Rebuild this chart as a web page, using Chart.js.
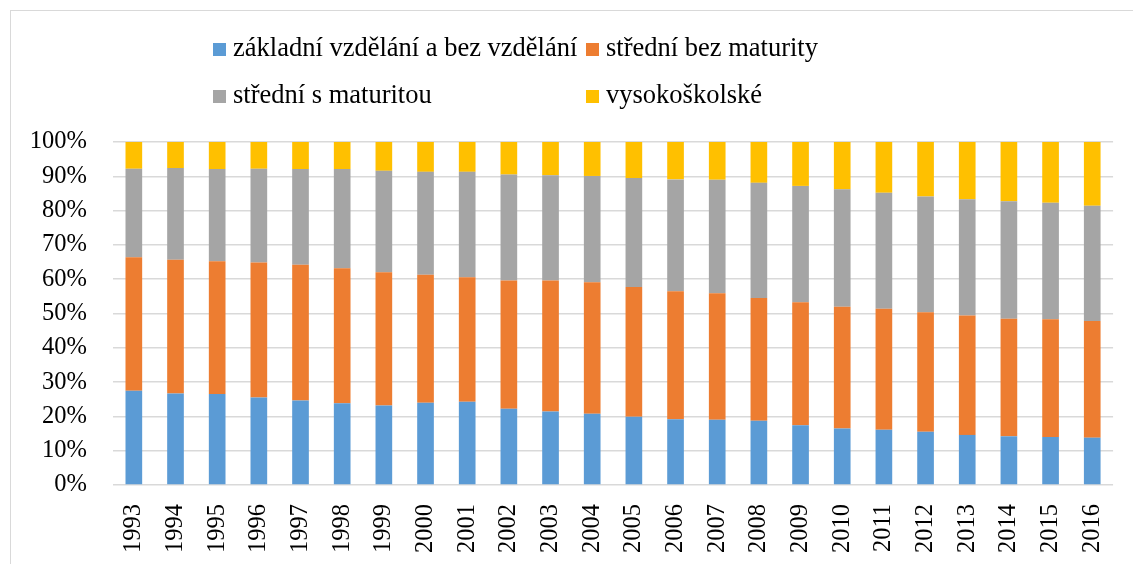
<!DOCTYPE html>
<html>
<head>
<meta charset="utf-8">
<script src="https://cdn.jsdelivr.net/npm/chart.js@4/dist/chart.umd.min.js"></script>
<style>
html, body { margin: 0; padding: 0; background: #fff; overflow: hidden; }
#wrap { position: relative; width: 1133px; height: 564px; }
#frame { position: absolute; left: 10px; top: 10px; width: 1140px; height: 600px; border: 1px solid #d9d9d9; }
canvas { position: absolute; left: 0; top: 0; }
</style>
</head>
<body>
<div id="wrap">
  <div id="frame"></div>
  <canvas id="myChart" width="1133" height="564"></canvas>
</div>
<script>
let years = ['1993', '1994', '1995', '1996', '1997', '1998', '1999', '2000', '2001', '2002', '2003', '2004',
             '2005', '2006', '2007', '2008', '2009', '2010', '2011', '2012', '2013', '2014', '2015', '2016']

// podíly v % (čteno z grafu)
let zakladni = [27.5, 26.7, 26.5, 25.5, 24.6, 23.8, 23.2, 24.0, 24.3, 22.2, 21.4, 20.8,
                19.9, 19.2, 19.0, 18.7, 17.4, 16.5, 16.1, 15.5, 14.6, 14.2, 14.0, 13.8]
let stredniBez = [38.9, 39.0, 38.7, 39.4, 39.6, 39.4, 38.8, 37.3, 36.3, 37.4, 38.2, 38.3,
                  37.8, 37.3, 36.9, 35.8, 35.9, 35.5, 35.3, 34.9, 34.8, 34.3, 34.3, 34.0]
let stredniS = [25.8, 26.7, 26.9, 27.3, 27.9, 28.9, 29.6, 30.0, 30.7, 30.9, 30.7, 31.0,
                31.8, 32.6, 33.1, 33.6, 33.9, 34.2, 33.8, 33.7, 33.9, 34.2, 34.0, 33.6]
let vysoko = [7.8, 7.6, 7.9, 7.8, 7.9, 7.9, 8.4, 8.7, 8.7, 9.5, 9.7, 9.9,
              10.5, 10.9, 11.0, 11.9, 12.8, 13.8, 14.8, 15.9, 16.7, 17.3, 17.7, 18.6]

let seriesNames = ['základní vzdělání a bez vzdělání', 'střední bez maturity', 'střední s maturitou', 'vysokoškolské']
let colorHex = ['#5B9BD5', '#ED7D31', '#A5A5A5', '#FFC000']

let yTicks = [0, 10, 20, 30, 40, 50, 60, 70, 80, 90, 100]

const serif = '"Liberation Serif", "Times New Roman", serif'

// legenda ve dvou sloupcích jako v Excelu
const gridLegend = {
    id: 'gridLegend',
    afterDraw(chart) {
        const c = chart.ctx
        c.save()
        c.font = '26.5px ' + serif
        c.textBaseline = 'alphabetic'
        chart.data.datasets.forEach((ds, i) => {
            const x = i % 2 === 0 ? 213 : 586
            const y = i < 2 ? 56 : 103
            c.fillStyle = ds.backgroundColor
            c.fillRect(x, y - 13, 13, 13)
            c.fillStyle = '#000'
            c.fillText(ds.label, x + 20, y)
        })
        c.restore()
    },
}

let ctx = document.getElementById('myChart').getContext('2d')
let values = [zakladni, stredniBez, stredniS, vysoko]

let myChart = new Chart(ctx, {
    type: 'bar',
    data: {
        labels: years,
        datasets: values.map((v, i) => ({
            label: seriesNames[i],
            data: v,
            backgroundColor: colorHex[i],
            borderWidth: 0,
            categoryPercentage: 1,
            barPercentage: 0.4,
        })),
    },
    options: {
        responsive: false,
        animation: false,
        devicePixelRatio: 1,
        layout: {
            padding: { top: 142, left: 0, right: 17.5, bottom: 0 },
        },
        plugins: {
            legend: { display: false },
            tooltip: { enabled: false },
        },
        scales: {
            x: {
                stacked: true,
                grid: { display: false },
                border: { display: false },
                afterFit: (axis) => { axis.height = 79 },
                ticks: {
                    color: '#000',
                    minRotation: 90,
                    maxRotation: 90,
                    autoSkip: false,
                    padding: 11,
                    font: { family: serif, size: 24.5 },
                },
            },
            y: {
                stacked: true,
                min: 0,
                max: 100,
                afterBuildTicks: (axis) => {
                    axis.ticks = yTicks.map((v) => ({ value: v }))
                },
                afterFit: (axis) => { axis.width = 113 },
                grid: { color: '#d9d9d9', lineWidth: 1.5, drawTicks: false },
                border: { display: false },
                ticks: {
                    color: '#000',
                    padding: 26,
                    font: { family: serif, size: 24.5 },
                    callback: (value) => value + '%',
                },
            },
        },
    },
    plugins: [gridLegend],
})
</script>
</body>
</html>
